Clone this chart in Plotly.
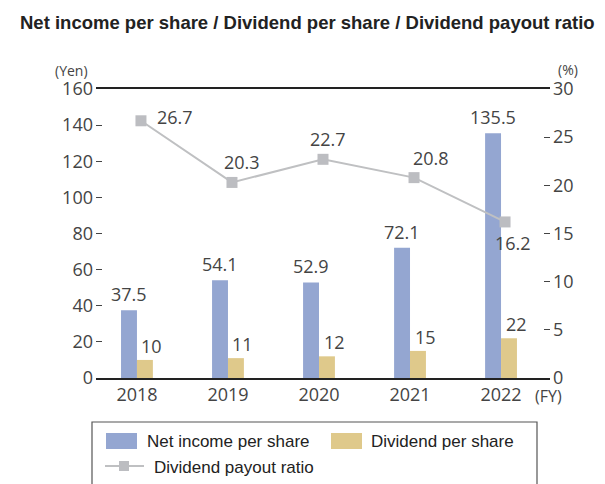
import plotly.graph_objects as go

years = ["2018", "2019", "2020", "2021", "2022"]
net_income = [37.5, 54.1, 52.9, 72.1, 135.5]
dividend = [10, 11, 12, 15, 22]
payout = [26.7, 20.3, 22.7, 20.8, 16.2]
net_income_labels = ["37.5", "54.1", "52.9", "72.1", "135.5"]
dividend_labels = ["10", "11", "12", "15", "22"]
payout_labels = ["26.7", "20.3", "22.7", "20.8", "16.2"]
series_names = ["Net income per share", "Dividend per share", "Dividend payout ratio"]
title_text = "Net income per share / Dividend per share / Dividend payout ratio"

BLUE = "#94a6d1"
GOLD = "#dfc98b"
GRAY_LINE = "#bfc0c2"
GRAY_MARK = "#bcbdc1"
TXT = "#444444"
NUMFONT = "Open Sans, Noto Sans, sans-serif"
LEGFONT = "Liberation Sans, Arial, sans-serif"

# plot-area pixel geometry
L, R, T, B = 96, 550, 89, 378
W, H = 605, 484


def px(xp):
    return (xp - L) / (R - L)


def py(yp):
    return (B - yp) / (B - T)


fig = go.Figure()
fig.add_trace(go.Bar(x=years, y=net_income, name=series_names[0], marker_color=BLUE,
                     marker_line_width=0, showlegend=False))
fig.add_trace(go.Bar(x=years, y=dividend, name=series_names[1], marker_color=GOLD,
                     marker_line_width=0, showlegend=False))
fig.add_trace(go.Scatter(x=years, y=payout, name=series_names[2], mode="lines+markers",
                         line=dict(color=GRAY_LINE, width=2),
                         marker=dict(symbol="square", size=11, color=GRAY_MARK),
                         xaxis="x2", yaxis="y2", showlegend=False, cliponaxis=False))

xr = [-0.45, 4.538]
shift = 0.044

fig.update_layout(
    width=W, height=H,
    margin=dict(l=L, r=W - R, t=T, b=H - B, pad=0),
    paper_bgcolor="white", plot_bgcolor="white",
    barmode="group", bargap=0.65, bargroupgap=0,
    xaxis=dict(type="category", range=xr, showgrid=False, showline=True, mirror=True,
               linecolor="#222222", linewidth=1.5, ticks="",
               tickfont=dict(family=NUMFONT, size=18, color=TXT), zeroline=False),
    xaxis2=dict(type="category", range=[xr[0] - shift, xr[1] - shift], overlaying="x",
                visible=False),
    yaxis=dict(range=[0, 160], dtick=20, showgrid=False, showline=False, zeroline=False,
               ticks="inside", ticklen=6, tickwidth=1.2, tickcolor="#444444",
               ticklabelstandoff=2,
               tickfont=dict(family=NUMFONT, size=18, color=TXT)),
    yaxis2=dict(range=[0, 30], dtick=5, overlaying="y", side="right", showgrid=False,
                showline=False, zeroline=False, ticks="inside", ticklen=6, tickwidth=1.2,
                tickcolor="#444444", ticklabelstandoff=2,
                tickfont=dict(family=NUMFONT, size=18, color=TXT)),
)

ann = []
# title
ann.append(dict(text="<b>" + title_text + "</b>", xref="paper", yref="paper",
                x=px(18), y=py(22), xanchor="left", yanchor="middle", showarrow=False,
                font=dict(family="Liberation Sans, Arial, sans-serif", size=18.5, color="#222222")))
# unit labels
ann.append(dict(text="(Yen)", xref="paper", yref="paper", x=px(90), y=py(70),
                xanchor="right", yanchor="middle", showarrow=False,
                font=dict(family=NUMFONT, size=14, color=TXT)))
ann.append(dict(text="(%)", xref="paper", yref="paper", x=px(556), y=py(69),
                xanchor="left", yanchor="middle", showarrow=False,
                font=dict(family=NUMFONT, size=14, color=TXT)))
ann.append(dict(text="(FY)", xref="paper", yref="paper", x=px(548), y=py(396),
                xanchor="center", yanchor="middle", showarrow=False,
                font=dict(family=NUMFONT, size=16, color=TXT)))

# bar value labels (category index positions)
for i, (v, t) in enumerate(zip(net_income, net_income_labels)):
    ann.append(dict(text=t, x=i, y=v, xref="x", yref="y", xanchor="center", yanchor="bottom",
                    xshift=-8, yshift=2, showarrow=False,
                    font=dict(family=NUMFONT, size=18, color=TXT)))
for i, (v, t) in enumerate(zip(dividend, dividend_labels)):
    ann.append(dict(text=t, x=i, y=v, xref="x", yref="y", xanchor="center", yanchor="bottom",
                    xshift=15, yshift=0, showarrow=False,
                    font=dict(family=NUMFONT, size=18, color=TXT)))
# ratio labels
offs = [(34, 4), (10, 20), (5, 20), (17, 20), (8, -21)]
for i, (v, t, (dx, dy)) in enumerate(zip(payout, payout_labels, offs)):
    ann.append(dict(text=t, x=i, y=v, xref="x2", yref="y2", xanchor="center", yanchor="middle",
                    xshift=dx, yshift=dy, showarrow=False,
                    font=dict(family=NUMFONT, size=18, color=TXT)))

# custom legend
shapes = []
shapes.append(dict(type="rect", xref="paper", yref="paper", x0=px(92), x1=px(537),
                   y0=py(422), y1=py(520), line=dict(color="#555555", width=1.2),
                   fillcolor="rgba(0,0,0,0)"))
shapes.append(dict(type="rect", xref="paper", yref="paper", x0=px(106), x1=px(137),
                   y0=py(433), y1=py(449), line=dict(width=0), fillcolor=BLUE))
shapes.append(dict(type="rect", xref="paper", yref="paper", x0=px(331), x1=px(362),
                   y0=py(433), y1=py(449), line=dict(width=0), fillcolor=GOLD))
shapes.append(dict(type="line", xref="paper", yref="paper", x0=px(105), x1=px(144),
                   y0=py(466), y1=py(466), line=dict(color=GRAY_LINE, width=2)))
shapes.append(dict(type="rect", xref="paper", yref="paper", x0=px(119), x1=px(129),
                   y0=py(461), y1=py(471), line=dict(width=0), fillcolor=GRAY_MARK))
fig.update_layout(shapes=shapes)

for name, lx, ly in [(series_names[0], 145, 441), (series_names[1], 369, 441),
                     (series_names[2], 152, 467)]:
    ann.append(dict(text=name, xref="paper", yref="paper", x=px(lx), y=py(ly),
                    xanchor="left", yanchor="middle", showarrow=False,
                    font=dict(family=LEGFONT, size=17, color="#222222")))

fig.update_layout(annotations=ann)
fig.write_html("out.html", config={"displayModeBar": False},
               post_script="document.body.style.margin='0';")
